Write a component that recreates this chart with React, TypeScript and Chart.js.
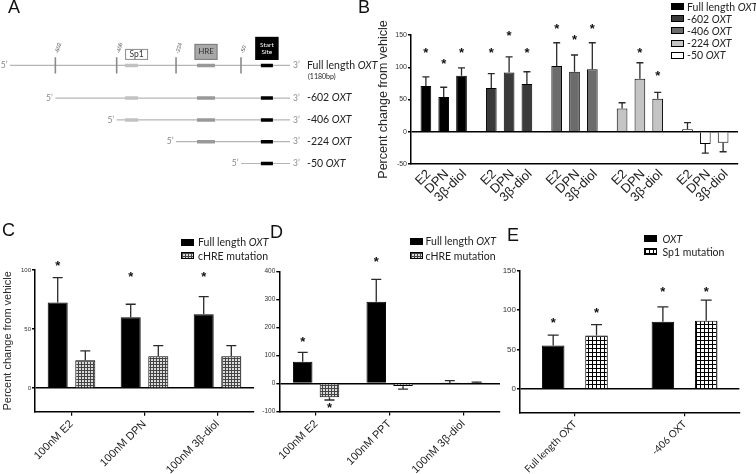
import React, { useEffect, useRef } from 'react';
import { Chart, registerables } from 'chart.js';

Chart.register(...registerables);

const SANS = '"Liberation Sans", Arial, sans-serif';
const HUM = 'Lato, "Open Sans", sans-serif';
Chart.defaults.font.family = SANS;

// ---------------- Panel A (schematic, in diagram units 0..100 along the promoter) ----------------
const aSiteLabels = ['-602', '-406', '-224', '-50'];
const aSitePos = [16.2, 38.1, 59.3, 82.5];
const aConstructNames = ['Full length', '-602', '-406', '-224', '-50'];
const aConstructStart = [0, 16.2, 38.1, 59.3, 82.5];
const aRowY = [0, 1.5, 2.5, 3.5, 4.5];
const aSp1 = [41.1, 45.7];
const aHRE = [66.8, 73.2];
const aStartSite = [89.6, 93.9];

// ---------------- Panel B ----------------
const bConstructs = ['Full length OXT', '-602 OXT', '-406 OXT', '-224 OXT', '-50 OXT'];
const bTreatments = ['E2', 'DPN', '3β-diol'];
const bE2 = [71, 68, 102, 36, 4];
const bE2Err = [14, 22, 36, 9, 10];
const bDPN = [54, 92, 93, 82, -19];
const bDPNErr = [15, 24, 26, 25, 14];
const b3bDiol = [87, 74, 97, 51, -17];
const b3bDiolErr = [12, 19, 41, 10, 14];
const bE2Stars = [128, 128, 165, null, null];
const bDPNStars = [111, 154, 147, 128, null];
const b3bDiolStars = [128, 128, 165, 92, null];
const bYTicks = [-50, 0, 50, 100, 150];

// ---------------- Panel C ----------------
const cTreatments = ['100nM E2', '100nM DPN', '100nM 3β-diol'];
const cSeries = ['Full length OXT', 'cHRE mutation'];
const cFull = [72.5, 60, 62.5];
const cFullErr = [21, 11, 15];
const cHRE = [23.5, 27, 27];
const cHREErr = [8, 9, 9];
const cFullStars = [106, 97, 97];
const cYTicks = [-20, 0, 50, 100];

// ---------------- Panel D ----------------
const dTreatments = ['100nM E2', '100nM PPT', '100nM 3β-diol'];
const dSeries = ['Full length OXT', 'cHRE mutation'];
const dFull = [78, 292, 2];
const dFullErr = [33, 80, 8];
const dHRE = [-49, -9, 1];
const dHREErr = [10, 11, 4];
const dFullStars = [160, 447, null];
const dHREStars = [-74, null, null];
const dYTicks = [-100, 0, 100, 200, 300, 400];

// ---------------- Panel E ----------------
const eConstructs = ['Full length OXT', '-406 OXT'];
const eSeries = ['OXT', 'Sp1 mutation'];
const eOXT = [55, 85];
const eOXTErr = [13, 19];
const eSp1 = [67.5, 86.5];
const eSp1Err = [14, 26];
const eOXTStars = [88, 128];
const eSp1Stars = [101, 128];
const eYTicks = [-30, 0, 50, 100, 150];

const bColors = ['#000000', '#3a3a3a', '#6c6c6c', '#c4c4c4', '#ffffff'];

function makePattern(size: number, bg: string, line: string) {
  const c = document.createElement('canvas');
  c.width = size;
  c.height = size;
  const g = c.getContext('2d') as CanvasRenderingContext2D;
  g.fillStyle = bg;
  g.fillRect(0, 0, size, size);
  g.fillStyle = line;
  g.fillRect(0, 0, size, 1);
  g.fillRect(0, 0, 1, size);
  return g.createPattern(c, 'repeat');
}

const errorBarPlugin = {
  id: 'errorBars',
  afterDatasetsDraw(chart: any, _args: any, opts: any) {
    const ctx = chart.ctx;
    const ys = chart.scales.y;
    chart.data.datasets.forEach((ds: any, i: number) => {
      const meta = chart.getDatasetMeta(i);
      meta.data.forEach((bar: any, j: number) => {
        const v = ds.data[j];
        const e = ds.errors ? ds.errors[j] : null;
        ctx.save();
        if (e != null) {
          const end = ys.getPixelForValue(v < 0 ? v - e : v + e);
          ctx.strokeStyle = '#2a2a2a';
          ctx.lineWidth = 1.3;
          ctx.beginPath();
          ctx.moveTo(bar.x, bar.y);
          ctx.lineTo(bar.x, end);
          ctx.moveTo(bar.x - opts.cap / 2, end);
          ctx.lineTo(bar.x + opts.cap / 2, end);
          ctx.stroke();
        }
        const s = ds.stars ? ds.stars[j] : null;
        if (s != null) {
          const size = opts.starSize || 13;
          ctx.fillStyle = '#111';
          ctx.font = `bold ${size}px ${SANS}`;
          ctx.textAlign = 'center';
          ctx.textBaseline = 'alphabetic';
          ctx.fillText('*', bar.x, ys.getPixelForValue(s) + size * 0.58);
        }
        ctx.restore();
      });
    });
  },
};

const barLabelPlugin = {
  id: 'barLabels',
  afterDraw(chart: any, _args: any, opts: any) {
    if (!opts || !opts.labels) return;
    const ctx = chart.ctx;
    const bottom = chart.chartArea.bottom;
    chart.data.datasets.forEach((_ds: any, i: number) => {
      chart.getDatasetMeta(i).data.forEach((bar: any) => {
        ctx.save();
        ctx.translate(bar.x + opts.dx, bottom + opts.dy);
        ctx.rotate(-Math.PI / 4);
        ctx.font = `${opts.size}px ${SANS}`;
        ctx.fillStyle = '#222';
        ctx.textAlign = 'right';
        ctx.textBaseline = 'middle';
        ctx.fillText(opts.labels[i], 0, 0);
        ctx.restore();
      });
    });
  },
};

function makeBar(canvas: HTMLCanvasElement, p: any) {
  return new Chart(canvas, {
    type: 'bar',
    data: {
      labels: p.labels,
      datasets: p.datasets.map((d: any) => ({
        ...d,
        borderColor: '#000',
        borderWidth: 1,
        categoryPercentage: p.catPct,
        barPercentage: p.barPct,
      })),
    },
    options: {
      responsive: false,
      animation: false,
      layout: { padding: p.pad },
      plugins: {
        legend: { display: false },
        tooltip: { enabled: false },
        errorBars: { cap: p.cap, starSize: 13 },
        barLabels: p.barLabels || {},
      } as any,
      scales: {
        x: {
          type: 'category',
          border: { display: true, color: '#000', width: 1.5 },
          grid: {
            display: p.xTicks,
            drawOnChartArea: false,
            drawTicks: true,
            tickLength: 4,
            tickColor: '#000',
            lineWidth: 1.2,
            offset: false,
          },
          ticks: {
            display: p.xTicks,
            minRotation: 45,
            maxRotation: 45,
            autoSkip: false,
            font: p.xFont,
            color: '#222',
            padding: 2,
          },
          afterFit: (s: any) => {
            s.height = p.xAxisH;
          },
        },
        y: {
          type: 'linear',
          min: p.yTicks[0],
          max: p.yTicks[p.yTicks.length - 1],
          border: { display: true, color: '#000', width: 1.5 },
          grid: {
            color: (c: any) => (c.tick && c.tick.value === 0 ? '#000' : 'rgba(0,0,0,0)'),
            lineWidth: 1.4,
            tickLength: 3,
            tickColor: '#000',
            drawTicks: true,
          },
          ticks: {
            stepSize: p.step,
            font: { family: SANS, size: p.tickSize },
            color: '#333',
            padding: 1,
          },
          afterBuildTicks: (s: any) => {
            s.ticks = s.ticks.filter((t: any) => t.value % p.step === 0);
          },
          title: p.yTitle
            ? {
                display: true,
                text: p.yTitle,
                font: { family: SANS, size: p.yTitleSize },
                color: '#2a2a2a',
                padding: { top: 1, bottom: 0 },
              }
            : { display: false },
          afterFit: (s: any) => {
            s.width = p.yAxisW;
          },
        },
      } as any,
    },
    plugins: [errorBarPlugin, ...(p.extra || [])],
  } as any);
}

const diagramPlugin = {
  id: 'diagram',
  afterDatasetsDraw(chart: any) {
    const ctx = chart.ctx;
    const xs = chart.scales.x;
    const ys = chart.scales.y;
    const px = (v: number) => xs.getPixelForValue(v);
    const py = (v: number) => ys.getPixelForValue(v);
    const y0 = py(aRowY[0]);
    ctx.save();
    // site labels
    ctx.fillStyle = '#555';
    ctx.font = `5.5px ${SANS}`;
    aSitePos.forEach((p, k) => {
      ctx.save();
      ctx.translate(px(p) + 1.5, py(-0.55));
      ctx.rotate(-1.3);
      ctx.textAlign = 'left';
      ctx.textBaseline = 'middle';
      ctx.fillText(aSiteLabels[k], 0, 0);
      ctx.restore();
    });
    const box = (l: number, t: number, w: number, h: number, fill: string, stroke: string, lines: string[], tc: string, fs: number) => {
      ctx.fillStyle = fill;
      ctx.fillRect(l, t, w, h);
      ctx.strokeStyle = stroke;
      ctx.lineWidth = 1;
      ctx.strokeRect(l + 0.5, t + 0.5, w - 1, h - 1);
      ctx.fillStyle = tc;
      ctx.font = `${fs}px ${HUM}`;
      ctx.textAlign = 'center';
      ctx.textBaseline = 'middle';
      const lh = fs * 1.15;
      lines.forEach((s, i) => {
        ctx.fillText(s, l + w / 2, t + h / 2 + (i - (lines.length - 1) / 2) * lh);
      });
    };
    box(px(aSp1[0]), y0 - 16.5, 23, 11, '#fff', '#8a8a8a', ['Sp1'], '#333', 8.5);
    box(px((aHRE[0] + aHRE[1]) / 2) - 11.5, y0 - 21.5, 23, 16, '#a8a8a8', '#7c7c7c', ['HRE'], '#333', 8);
    box(px((aStartSite[0] + aStartSite[1]) / 2) - 11.5, y0 - 28.5, 23, 23, '#000', '#000', ['Start', 'Site'], '#fff', 6.5);

    aConstructStart.forEach((s, i) => {
      const yy = py(aRowY[i]);
      ctx.fillStyle = '#8a8a8a';
      ctx.font = `8.5px ${HUM}`;
      ctx.textBaseline = 'middle';
      ctx.textAlign = 'right';
      ctx.fillText('5’', px(s) - 2.5, yy);
      ctx.textAlign = 'left';
      ctx.fillText('3’', px(100) + 3, yy);
      const lx = px(100) + 17;
      ctx.fillStyle = '#222';
      ctx.font = `10.5px ${HUM}`;
      const pre = aConstructNames[i] + ' ';
      ctx.fillText(pre, lx, yy);
      const w = ctx.measureText(pre).width;
      ctx.font = `italic 10.5px ${HUM}`;
      ctx.fillText('OXT', lx + w, yy);
    });
    ctx.fillStyle = '#222';
    ctx.font = `7px ${HUM}`;
    ctx.textAlign = 'left';
    ctx.fillText('(1180bp)', px(100) + 18, y0 + 11.5);
    ctx.restore();
  },
};

function makeA(canvas: HTMLCanvasElement) {
  const seg = (a: number, b: number, y: number) => [
    { x: a, y },
    { x: b, y },
  ];
  const datasets: any[] = [];
  aConstructStart.forEach((s, i) => {
    datasets.push({ data: seg(s, 100, aRowY[i]), borderColor: '#b5b5b5', borderWidth: 1.2, order: 3 });
  });
  aSitePos.forEach((p) => {
    datasets.push({ data: [{ x: p, y: -0.37 }, { x: p, y: 0.37 }], borderColor: '#8a8a8a', borderWidth: 1.6, order: 2 });
  });
  aConstructStart.forEach((s, i) => {
    const y = aRowY[i];
    if (s < aSp1[0]) datasets.push({ data: seg(aSp1[0], aSp1[1], y), borderColor: '#c2c2c2', borderWidth: 3.5, order: 0 });
    if (s < aHRE[0]) datasets.push({ data: seg(aHRE[0], aHRE[1], y), borderColor: '#999999', borderWidth: 3.5, order: 0 });
    datasets.push({ data: seg(aStartSite[0], aStartSite[1], y), borderColor: '#000', borderWidth: 3.5, order: 0 });
  });
  datasets.forEach((d) => {
    d.showLine = true;
    d.pointRadius = 0;
    d.borderCapStyle = 'butt';
  });
  return new Chart(canvas, {
    type: 'scatter',
    data: { datasets },
    options: {
      responsive: false,
      animation: false,
      layout: { padding: { left: 10, right: 110, top: 0, bottom: 25.6 } },
      plugins: { legend: { display: false }, tooltip: { enabled: false } },
      scales: {
        x: { type: 'linear', min: 0, max: 100, display: false },
        y: { type: 'linear', min: -3, max: 5, reverse: true, display: false },
      },
    },
    plugins: [diagramPlugin],
  } as any);
}

function italicOXT(s: string) {
  const parts = s.split('OXT');
  if (parts.length === 1) return s;
  return (
    <>
      {parts[0]}
      <i>OXT</i>
      {parts[1]}
    </>
  );
}

function Legend({ x, textX, ys, items, swatches }: any) {
  return (
    <>
      {items.map((it: string, i: number) => (
        <div
          key={i}
          style={{
            position: 'absolute',
            left: x,
            top: ys[i] - 7,
            height: 14,
            display: 'flex',
            alignItems: 'center',
            whiteSpace: 'nowrap',
            font: `10.5px ${HUM}`,
            color: '#222',
          }}
        >
          <div style={{ width: 13, height: 7, boxSizing: 'border-box', border: '1px solid #000', marginRight: textX - x - 13, ...swatches[i] }} />
          <span>{italicOXT(it)}</span>
        </div>
      ))}
    </>
  );
}

const cHatchCss = {
  backgroundColor: '#dcdcdc',
  backgroundImage: 'linear-gradient(to right, #444 1px, transparent 1px), linear-gradient(to bottom, #444 1px, transparent 1px)',
  backgroundSize: '3px 3px',
};
const eHatchCss = {
  backgroundColor: '#fff',
  backgroundImage: 'linear-gradient(to right, #000 1px, transparent 1px), linear-gradient(to bottom, #000 1px, transparent 1px)',
  backgroundSize: '4px 4px',
};

const letterStyle = (left: number, top: number): any => ({
  position: 'absolute',
  left,
  top,
  font: `18px ${SANS}`,
  lineHeight: 1,
  color: '#111',
});

export default function App() {
  const aRef = useRef<HTMLCanvasElement>(null);
  const bRef = useRef<HTMLCanvasElement>(null);
  const cRef = useRef<HTMLCanvasElement>(null);
  const dRef = useRef<HTMLCanvasElement>(null);
  const eRef = useRef<HTMLCanvasElement>(null);

  useEffect(() => {
    const cPat = makePattern(3, '#dcdcdc', '#444');
    const ePat = makePattern(4, '#ffffff', '#000');
    const charts: Chart[] = [];
    charts.push(makeA(aRef.current as HTMLCanvasElement));
    charts.push(
      makeBar(bRef.current as HTMLCanvasElement, {
        labels: bConstructs,
        datasets: [
          { label: bTreatments[0], data: bE2, errors: bE2Err, stars: bE2Stars, backgroundColor: bColors },
          { label: bTreatments[1], data: bDPN, errors: bDPNErr, stars: bDPNStars, backgroundColor: bColors },
          { label: bTreatments[2], data: b3bDiol, errors: b3bDiolErr, stars: b3bDiolStars, backgroundColor: bColors },
        ],
        yTicks: bYTicks,
        step: 50,
        catPct: 0.817,
        barPct: 0.6,
        pad: { top: 35, right: 18, left: 0, bottom: 0 },
        yAxisW: 36,
        xAxisH: 56,
        xTicks: false,
        tickSize: 7,
        yTitle: 'Percent change from vehicle',
        yTitleSize: 12.5,
        cap: 7,
        barLabels: { labels: bTreatments, dx: 3, dy: 8, size: 13 },
        extra: [barLabelPlugin],
      })
    );
    charts.push(
      makeBar(cRef.current as HTMLCanvasElement, {
        labels: cTreatments,
        datasets: [
          { label: cSeries[0], data: cFull, errors: cFullErr, stars: cFullStars, backgroundColor: '#000' },
          { label: cSeries[1], data: cHRE, errors: cHREErr, backgroundColor: cPat },
        ],
        yTicks: cYTicks,
        step: 50,
        catPct: 0.756,
        barPct: 0.725,
        pad: { top: 50, right: 4, left: 0, bottom: 0 },
        yAxisW: 35,
        xAxisH: 62.3,
        xTicks: true,
        xFont: { family: SANS, size: 11 },
        tickSize: 6,
        yTitle: 'Percent change from vehicle',
        yTitleSize: 11,
        cap: 10,
      })
    );
    charts.push(
      makeBar(dRef.current as HTMLCanvasElement, {
        labels: dTreatments,
        datasets: [
          { label: dSeries[0], data: dFull, errors: dFullErr, stars: dFullStars, backgroundColor: '#000' },
          { label: dSeries[1], data: dHRE, errors: dHREErr, stars: dHREStars, backgroundColor: cPat },
        ],
        yTicks: dYTicks,
        step: 100,
        catPct: 0.728,
        barPct: 0.73,
        pad: { top: 51.5, right: 10, left: 0, bottom: 0 },
        yAxisW: 29.3,
        xAxisH: 62.5,
        xTicks: true,
        xFont: { family: SANS, size: 11 },
        tickSize: 6.5,
        cap: 10,
      })
    );
    charts.push(
      makeBar(eRef.current as HTMLCanvasElement, {
        labels: eConstructs,
        datasets: [
          { label: eSeries[0], data: eOXT, errors: eOXTErr, stars: eOXTStars, backgroundColor: '#000' },
          { label: eSeries[1], data: eSp1, errors: eSp1Err, stars: eSp1Stars, backgroundColor: ePat },
        ],
        yTicks: eYTicks,
        step: 50,
        catPct: 0.79,
        barPct: 0.52,
        pad: { top: 50.7, right: 16.6, left: 0, bottom: 0 },
        yAxisW: 40,
        xAxisH: 61.7,
        xTicks: true,
        xFont: { family: HUM, size: 10 },
        tickSize: 8,
        cap: 11,
      })
    );
    return () => charts.forEach((c) => c.destroy());
  }, []);

  const cv = (left: number, top: number, w: number, h: number): any => ({
    position: 'absolute',
    left,
    top,
    width: w,
    height: h,
  });

  return (
    <div style={{ position: 'fixed', left: 0, top: 0, width: 756, height: 474, background: '#fff', overflow: 'hidden' }}>
      <canvas ref={aRef} width={400} height={200} style={cv(0, 0, 400, 200)} />
      <canvas ref={bRef} width={381} height={220} style={cv(375, 0, 381, 220)} />
      <canvas ref={cRef} width={258} height={254} style={cv(0, 220, 258, 254)} />
      <canvas ref={dRef} width={260} height={254} style={cv(250, 220, 260, 254)} />
      <canvas ref={eRef} width={276} height={254} style={cv(480, 220, 276, 254)} />

      <div style={letterStyle(8, -2)}>A</div>
      <div style={letterStyle(358, -2)}>B</div>
      <div style={letterStyle(2, 221)}>C</div>
      <div style={letterStyle(270, 223)}>D</div>
      <div style={letterStyle(507, 226)}>E</div>

      <Legend
        x={671}
        textX={687}
        ys={[6.7, 18.8, 30.9, 43, 55.1]}
        items={bConstructs}
        swatches={bColors.map((c) => ({ background: c }))}
      />
      <Legend x={181} textX={198} ys={[242, 255.5]} items={cSeries} swatches={[{ background: '#000' }, cHatchCss]} />
      <Legend x={409.5} textX={425.5} ys={[241, 255.5]} items={dSeries} swatches={[{ background: '#000' }, cHatchCss]} />
      <Legend x={644} textX={662.5} ys={[238.7, 251.7]} items={eSeries} swatches={[{ background: '#000' }, eHatchCss]} />
    </div>
  );
}
